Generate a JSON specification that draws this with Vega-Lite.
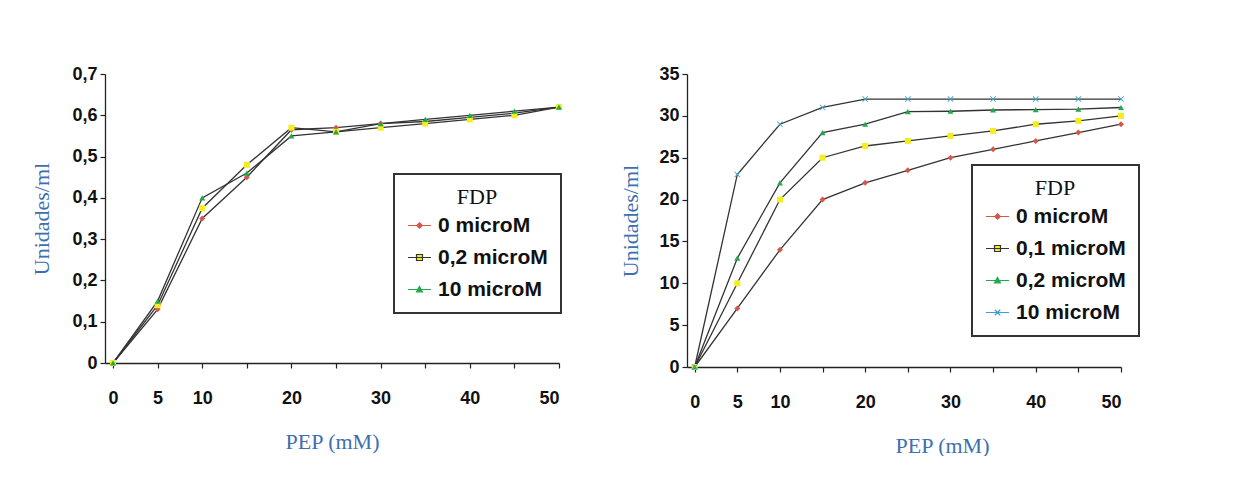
{
  "$schema": "https://vega.github.io/schema/vega-lite/v6.json",
  "background": "white",
  "padding": {"left": 30, "top": 65, "right": 0, "bottom": 0},
  "spacing": 57,
  "config": {
    "view": {"stroke": null},
    "axis": {
      "grid": false,
      "domainColor": "#222222",
      "domainWidth": 1.3,
      "tickColor": "#222222",
      "tickWidth": 1.2,
      "tickSize": 5,
      "labelFont": "Liberation Sans",
      "labelFontWeight": "bold",
      "labelFontSize": 18,
      "labelColor": "#111111",
      "titleFont": "Liberation Serif",
      "titleFontWeight": "normal",
      "titleFontSize": 22,
      "titleColor": "#3d6fb0"
    },
    "legend": {
      "strokeColor": "#333333",
      "strokeWidth": 2,
      "fillColor": "white",
      "padding": 13,
      "titleFont": "Liberation Serif",
      "titleFontWeight": "normal",
      "titleFontSize": 22,
      "titleColor": "#111111",
      "titleAnchor": "middle",
      "titlePadding": 4,
      "labelFont": "Liberation Sans",
      "labelFontWeight": "bold",
      "labelFontSize": 21,
      "labelColor": "#111111",
      "labelOffset": 6,
      "rowPadding": 9,
      "symbolSize": 529,
      "symbolOpacity": 1,
      "symbolStrokeWidth": 1.2
    }
  },
  "resolve": {"scale": {"fill": "independent", "stroke": "independent", "shape": "independent"}},
  "datasets": {
    "left": [
      {"pep": 0, "series": "0 microM", "u": 0},
      {"pep": 5, "series": "0 microM", "u": 0.13},
      {"pep": 10, "series": "0 microM", "u": 0.35},
      {"pep": 15, "series": "0 microM", "u": 0.45},
      {"pep": 20, "series": "0 microM", "u": 0.565},
      {"pep": 25, "series": "0 microM", "u": 0.57},
      {"pep": 30, "series": "0 microM", "u": 0.58},
      {"pep": 35, "series": "0 microM", "u": 0.585},
      {"pep": 40, "series": "0 microM", "u": 0.595},
      {"pep": 45, "series": "0 microM", "u": 0.605},
      {"pep": 50, "series": "0 microM", "u": 0.62},
      {"pep": 0, "series": "0,2 microM", "u": 0},
      {"pep": 5, "series": "0,2 microM", "u": 0.14},
      {"pep": 10, "series": "0,2 microM", "u": 0.375},
      {"pep": 15, "series": "0,2 microM", "u": 0.48},
      {"pep": 20, "series": "0,2 microM", "u": 0.57},
      {"pep": 25, "series": "0,2 microM", "u": 0.56},
      {"pep": 30, "series": "0,2 microM", "u": 0.57},
      {"pep": 35, "series": "0,2 microM", "u": 0.58},
      {"pep": 40, "series": "0,2 microM", "u": 0.59},
      {"pep": 45, "series": "0,2 microM", "u": 0.6},
      {"pep": 50, "series": "0,2 microM", "u": 0.62},
      {"pep": 0, "series": "10 microM", "u": 0},
      {"pep": 5, "series": "10 microM", "u": 0.15},
      {"pep": 10, "series": "10 microM", "u": 0.4},
      {"pep": 15, "series": "10 microM", "u": 0.46},
      {"pep": 20, "series": "10 microM", "u": 0.55},
      {"pep": 25, "series": "10 microM", "u": 0.56},
      {"pep": 30, "series": "10 microM", "u": 0.58},
      {"pep": 35, "series": "10 microM", "u": 0.59},
      {"pep": 40, "series": "10 microM", "u": 0.6},
      {"pep": 45, "series": "10 microM", "u": 0.61},
      {"pep": 50, "series": "10 microM", "u": 0.62}
    ],
    "right": [
      {"pep": 0, "series": "0 microM", "u": 0},
      {"pep": 5, "series": "0 microM", "u": 7},
      {"pep": 10, "series": "0 microM", "u": 14},
      {"pep": 15, "series": "0 microM", "u": 20},
      {"pep": 20, "series": "0 microM", "u": 22},
      {"pep": 25, "series": "0 microM", "u": 23.5},
      {"pep": 30, "series": "0 microM", "u": 25},
      {"pep": 35, "series": "0 microM", "u": 26},
      {"pep": 40, "series": "0 microM", "u": 27},
      {"pep": 45, "series": "0 microM", "u": 28},
      {"pep": 50, "series": "0 microM", "u": 29},
      {"pep": 0, "series": "0,1 microM", "u": 0},
      {"pep": 5, "series": "0,1 microM", "u": 10},
      {"pep": 10, "series": "0,1 microM", "u": 20},
      {"pep": 15, "series": "0,1 microM", "u": 25},
      {"pep": 20, "series": "0,1 microM", "u": 26.4},
      {"pep": 25, "series": "0,1 microM", "u": 27},
      {"pep": 30, "series": "0,1 microM", "u": 27.6},
      {"pep": 35, "series": "0,1 microM", "u": 28.2},
      {"pep": 40, "series": "0,1 microM", "u": 29},
      {"pep": 45, "series": "0,1 microM", "u": 29.4},
      {"pep": 50, "series": "0,1 microM", "u": 30},
      {"pep": 0, "series": "0,2 microM", "u": 0},
      {"pep": 5, "series": "0,2 microM", "u": 13},
      {"pep": 10, "series": "0,2 microM", "u": 22},
      {"pep": 15, "series": "0,2 microM", "u": 28},
      {"pep": 20, "series": "0,2 microM", "u": 29},
      {"pep": 25, "series": "0,2 microM", "u": 30.5},
      {"pep": 30, "series": "0,2 microM", "u": 30.55},
      {"pep": 35, "series": "0,2 microM", "u": 30.7},
      {"pep": 40, "series": "0,2 microM", "u": 30.75},
      {"pep": 45, "series": "0,2 microM", "u": 30.8},
      {"pep": 50, "series": "0,2 microM", "u": 31},
      {"pep": 0, "series": "10 microM", "u": 0},
      {"pep": 5, "series": "10 microM", "u": 23},
      {"pep": 10, "series": "10 microM", "u": 29},
      {"pep": 15, "series": "10 microM", "u": 31},
      {"pep": 20, "series": "10 microM", "u": 32},
      {"pep": 25, "series": "10 microM", "u": 32},
      {"pep": 30, "series": "10 microM", "u": 32},
      {"pep": 35, "series": "10 microM", "u": 32},
      {"pep": 40, "series": "10 microM", "u": 32},
      {"pep": 45, "series": "10 microM", "u": 32},
      {"pep": 50, "series": "10 microM", "u": 32}
    ]
  },
  "hconcat": [
    {
      "width": 454,
      "height": 289,
      "data": {"name": "left"},
      "encoding": {
        "x": {
          "field": "pep", "type": "quantitative",
          "scale": {"domain": [-0.9, 50], "nice": false, "zero": false},
          "axis": {
            "title": "PEP (mM)",
            "values": [0, 5, 10, 15, 20, 25, 30, 35, 40, 45, 50],
            "labelExpr": "datum.value < 15 || datum.value % 10 == 0 ? datum.label : ''",
            "labelPadding": 21,
            "titlePadding": 24
          }
        },
        "y": {
          "field": "u", "type": "quantitative",
          "scale": {"domain": [0, 0.7], "nice": false},
          "axis": {
            "title": "Unidades/ml",
            "values": [0, 0.1, 0.2, 0.3, 0.4, 0.5, 0.6, 0.7],
            "labelExpr": "datum.value == 0 ? '0' : replace(format(datum.value, '.1f'), '.', ',')",
            "labelPadding": 3,
            "titlePadding": 18
          }
        }
      },
      "layer": [
        {
          "mark": {"type": "line", "color": "#333333", "strokeWidth": 1.3},
          "encoding": {"detail": {"field": "series"}}
        },
        {
          "mark": {"type": "point", "filled": true, "opacity": 0},
          "encoding": {
            "fill": {
              "field": "series", "type": "nominal",
              "scale": {"domain": ["0 microM", "0,2 microM", "10 microM"], "range": ["#d4574a", "#f2ee20", "#22a84a"]},
              "legend": {"title": "FDP", "orient": "none", "legendX": 289, "legendY": 100}
            },
            "stroke": {
              "field": "series", "type": "nominal",
              "scale": {"domain": ["0 microM", "0,2 microM", "10 microM"], "range": ["#d4574a", "#333333", "#22a84a"]},
              "legend": {"title": "FDP"}
            },
            "shape": {
              "field": "series", "type": "nominal",
              "scale": {"domain": ["0 microM", "0,2 microM", "10 microM"], "range": ["M-1,0H1M0,-0.24L0.24,0L0,0.24L-0.24,0Z", "M-1,0H1M-0.26,-0.26H0.26V0.26H-0.26Z", "M-1,0H1M0,-0.26L0.26,0.2L-0.26,0.2Z"]},
              "legend": {"title": "FDP"}
            }
          }
        },
        {
          "mark": {"type": "point", "filled": true, "opacity": 1, "size": 36},
          "encoding": {
            "color": {
              "condition": [
                {"test": "datum.series == '0 microM'", "value": "#d4574a"},
                {"test": "datum.series == '0,2 microM'", "value": "#f2ee20"}
              ],
              "value": "#22a84a"
            },
            "shape": {
              "condition": [
                {"test": "datum.series == '0 microM'", "value": "diamond"},
                {"test": "datum.series == '0,2 microM'", "value": "square"}
              ],
              "value": "triangle-up"
            }
          }
        }
      ]
    },
    {
      "width": 434,
      "height": 293,
      "data": {"name": "right"},
      "encoding": {
        "x": {
          "field": "pep", "type": "quantitative",
          "scale": {"domain": [-0.9, 50], "nice": false, "zero": false},
          "axis": {
            "title": "PEP (mM)",
            "values": [0, 5, 10, 15, 20, 25, 30, 35, 40, 45, 50],
            "labelExpr": "datum.value < 15 || datum.value % 10 == 0 ? datum.label : ''",
            "labelPadding": 21,
            "titlePadding": 24,
            "titleX": 255
          }
        },
        "y": {
          "field": "u", "type": "quantitative",
          "scale": {"domain": [0, 35], "nice": false},
          "axis": {
            "title": "Unidades/ml",
            "values": [0, 5, 10, 15, 20, 25, 30, 35],
            "labelPadding": 3,
            "titlePadding": 16
          }
        }
      },
      "layer": [
        {
          "mark": {"type": "line", "color": "#333333", "strokeWidth": 1.3},
          "encoding": {"detail": {"field": "series"}}
        },
        {
          "mark": {"type": "point", "filled": true, "opacity": 0},
          "encoding": {
            "fill": {
              "field": "series", "type": "nominal",
              "scale": {"domain": ["0 microM", "0,1 microM", "0,2 microM", "10 microM"], "range": ["#d4574a", "#f2ee20", "#22a84a", "#3aa0d0"]},
              "legend": {"title": "FDP", "orient": "none", "legendX": 285, "legendY": 91}
            },
            "stroke": {
              "field": "series", "type": "nominal",
              "scale": {"domain": ["0 microM", "0,1 microM", "0,2 microM", "10 microM"], "range": ["#d4574a", "#333333", "#22a84a", "#3aa0d0"]},
              "legend": {"title": "FDP"}
            },
            "shape": {
              "field": "series", "type": "nominal",
              "scale": {"domain": ["0 microM", "0,1 microM", "0,2 microM", "10 microM"], "range": ["M-1,0H1M0,-0.24L0.24,0L0,0.24L-0.24,0Z", "M-1,0H1M-0.26,-0.26H0.26V0.26H-0.26Z", "M-1,0H1M0,-0.26L0.26,0.2L-0.26,0.2Z", "M-1,0H1M-0.24,-0.24L0.24,0.24M-0.24,0.24L0.24,-0.24"]},
              "legend": {"title": "FDP"}
            }
          }
        },
        {
          "mark": {"type": "point", "filled": true, "opacity": 1, "size": 36},
          "encoding": {
            "color": {
              "condition": [
                {"test": "datum.series == '0 microM'", "value": "#d4574a"},
                {"test": "datum.series == '0,1 microM'", "value": "#f2ee20"},
                {"test": "datum.series == '0,2 microM'", "value": "#22a84a"}
              ],
              "value": "#3aa0d0"
            },
            "shape": {
              "condition": [
                {"test": "datum.series == '0 microM'", "value": "diamond"},
                {"test": "datum.series == '0,1 microM'", "value": "square"},
                {"test": "datum.series == '0,2 microM'", "value": "triangle-up"}
              ],
              "value": "M-1,-0.8L-0.8,-1L0,-0.2L0.8,-1L1,-0.8L0.2,0L1,0.8L0.8,1L0,0.2L-0.8,1L-1,0.8L-0.2,0Z"
            }
          }
        }
      ]
    }
  ]
}
